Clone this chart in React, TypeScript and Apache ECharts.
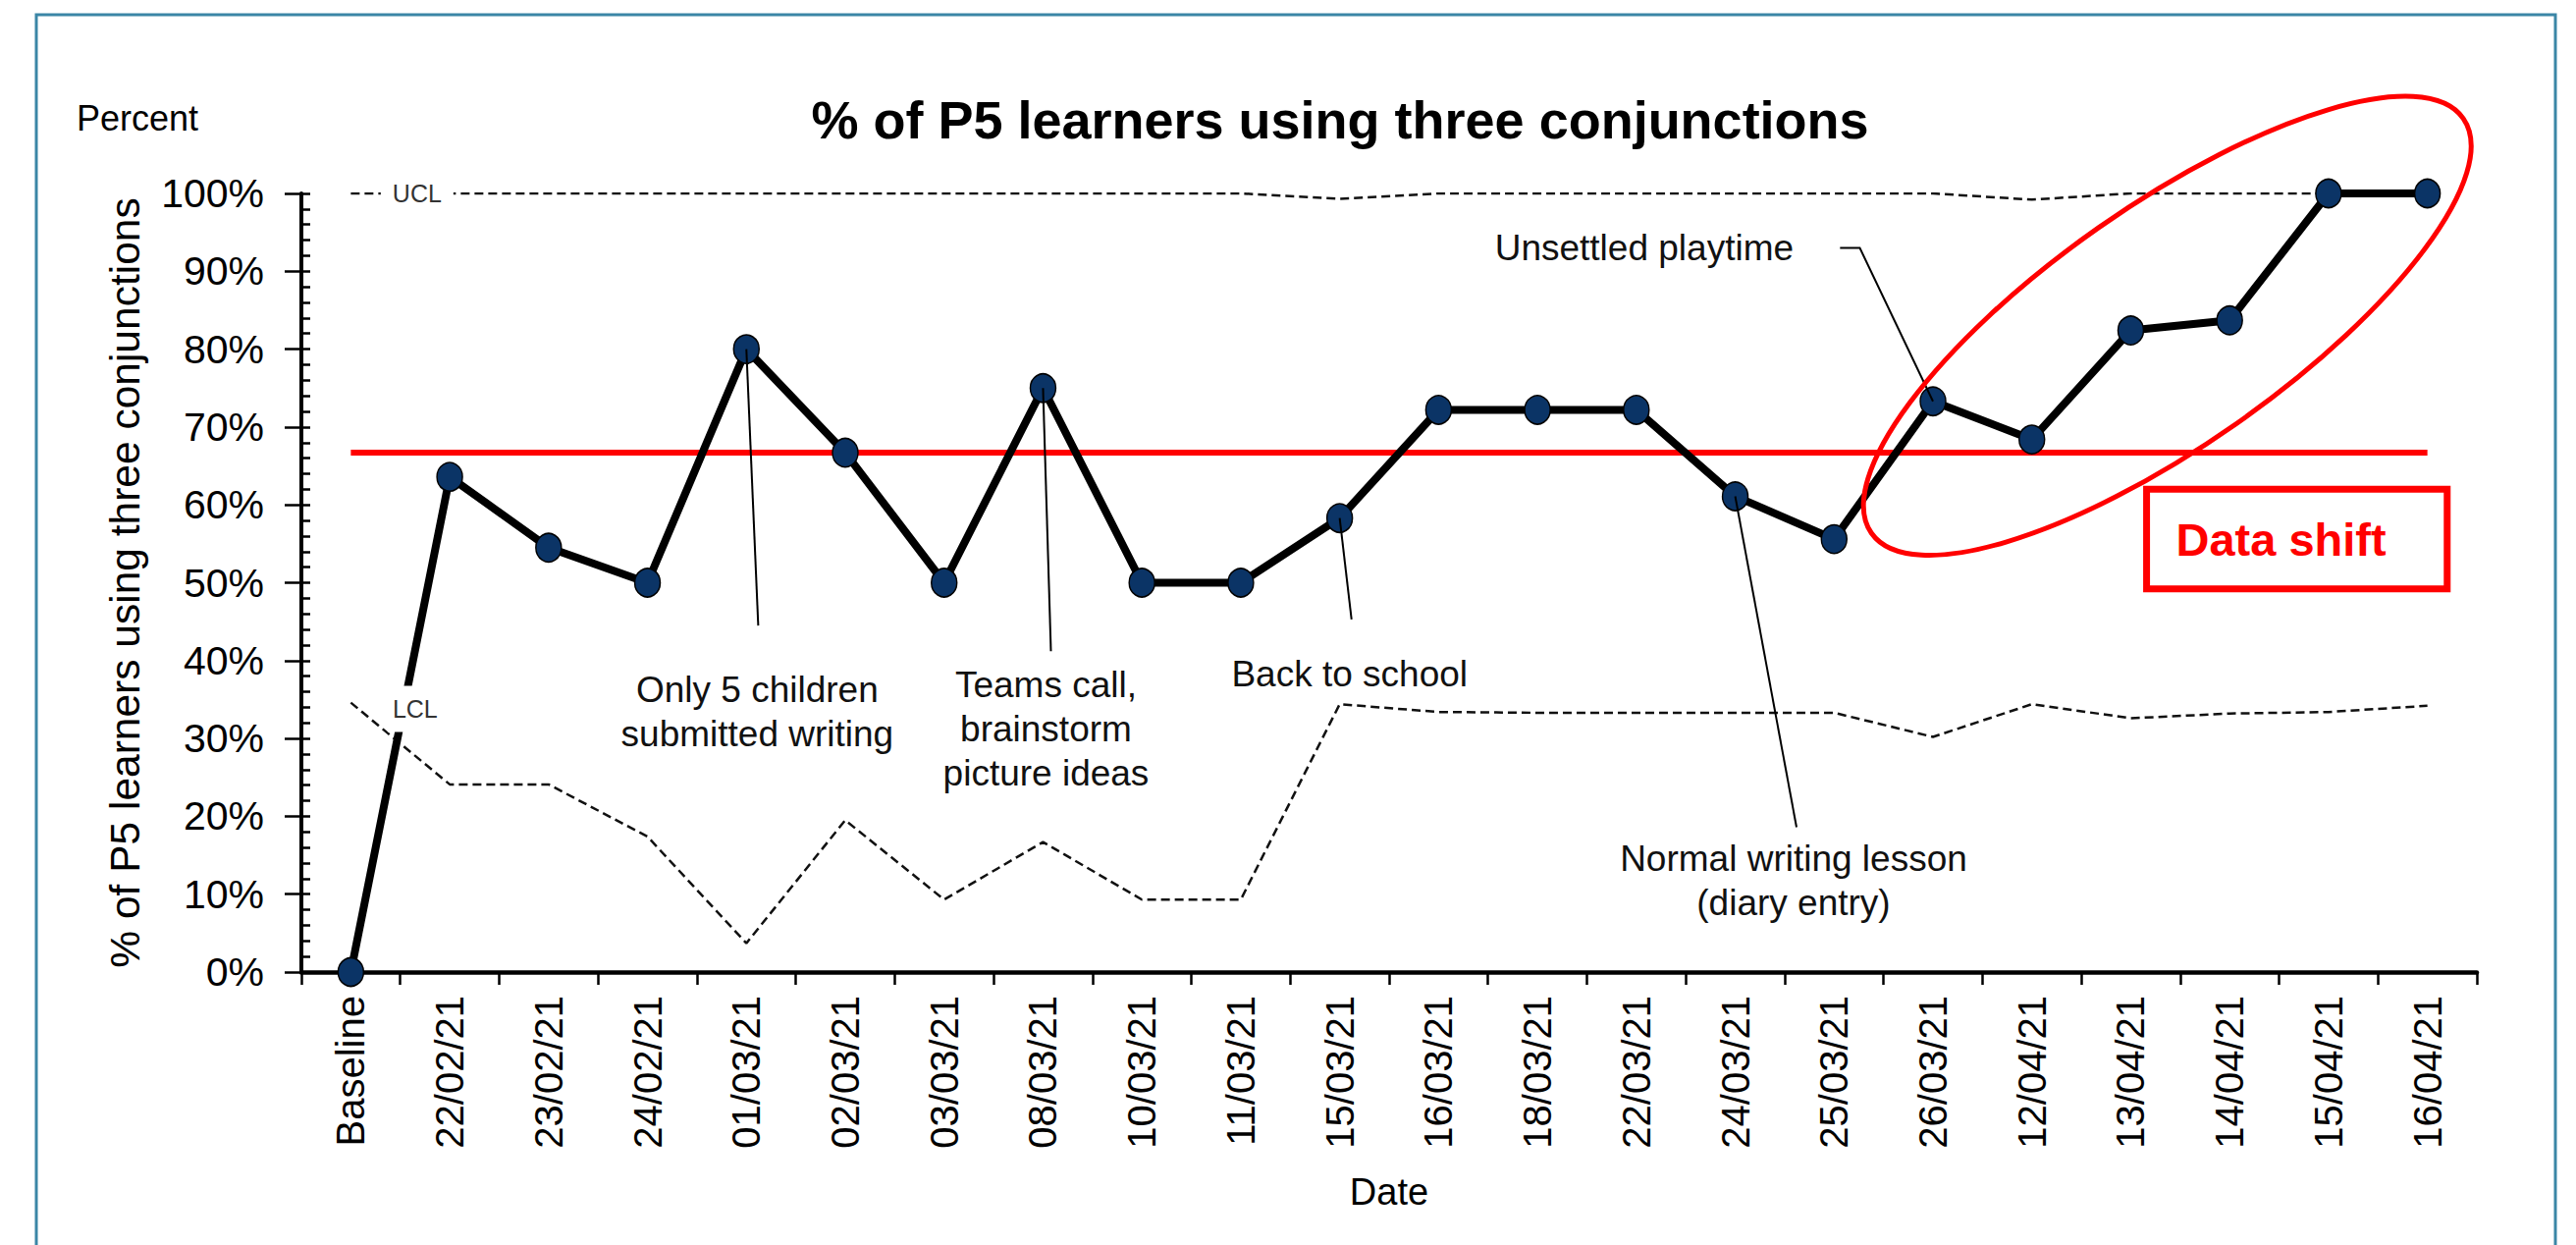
import React, { useEffect, useRef } from 'react';
import * as echarts from 'echarts';

const categories = ['Baseline', '22/02/21', '23/02/21', '24/02/21', '01/03/21', '02/03/21', '03/03/21', '08/03/21', '10/03/21', '11/03/21', '15/03/21', '16/03/21', '18/03/21', '22/03/21', '24/03/21', '25/03/21', '26/03/21', '12/04/21', '13/04/21', '14/04/21', '15/04/21', '16/04/21'];
const percentValues = [0, 63.6, 54.5, 50, 80, 66.7, 50, 75, 50, 50, 58.3, 72.2, 72.2, 72.2, 61.1, 55.6, 73.3, 68.4, 82.4, 83.7, 100, 100];
const meanValues = [66.7, 66.7, 66.7, 66.7, 66.7, 66.7, 66.7, 66.7, 66.7, 66.7, 66.7, 66.7, 66.7, 66.7, 66.7, 66.7, 66.7, 66.7, 66.7, 66.7, 66.7, 66.7];
const uclValues = [100, 100, 100, 100, 100, 100, 100, 100, 100, 100, 99.3, 100, 100, 100, 100, 100, 100, 99.2, 100, 100, 100, 100];
const lclValues = [34.6, 24.1, 24.1, 17.4, 3.7, 19.5, 9.3, 16.7, 9.3, 9.3, 34.4, 33.4, 33.3, 33.3, 33.3, 33.3, 30.2, 34.4, 32.6, 33.2, 33.4, 34.2];
const yTickValues = [0, 10, 20, 30, 40, 50, 60, 70, 80, 90, 100];

// annotations: text, text anchor [category index, value], leader line points [index, value]
const annotations = [
  { text: 'Only 5 children\nsubmitted writing', at: [4.11, 33.4], leader: [[4, 80], [4.12, 44.5]] },
  { text: 'Teams call,\nbrainstorm\npicture ideas', at: [7.03, 31.2], leader: [[7, 75], [7.08, 41.2]] },
  { text: 'Back to school', at: [10.1, 38.3], leader: [[10, 58.3], [10.12, 45.3]] },
  { text: 'Normal writing lesson\n(diary entry)', at: [14.59, 11.7], leader: [[14, 61.1], [14.62, 18.6]] },
  { text: 'Unsettled playtime', at: [13.08, 93.0], leader: [[16, 73.3], [15.26, 93], [15.06, 93]] },
];

const FONT = "'Liberation Sans', Arial, Helvetica, sans-serif";

export default function App() {
  const ref = useRef<HTMLDivElement>(null);
  useEffect(() => {
    const chart = echarts.init(ref.current as HTMLDivElement, null, { renderer: 'svg' });
    const option: any = {
      animation: false,
      backgroundColor: '#ffffff',
      title: {
        text: '% of P5 learners using three conjunctions',
        left: 1360,
        top: 90,
        textAlign: 'center',
        textStyle: { fontFamily: FONT, fontSize: 54, fontWeight: 'bold', color: '#000' },
      },
      grid: { left: 307, right: 101, top: 197, bottom: 278, containLabel: false },
      xAxis: {
        type: 'category',
        data: categories,
        boundaryGap: true,
        name: 'Date',
        nameLocation: 'middle',
        nameGap: 205,
        nameTextStyle: { fontFamily: FONT, fontSize: 38, color: '#000' },
        axisLine: { show: true, lineStyle: { color: '#000', width: 4.5 } },
        axisTick: { show: true, alignWithLabel: false, length: 13, lineStyle: { color: '#000', width: 2.5 } },
        axisLabel: { interval: 0, rotate: 90, margin: 24, fontFamily: FONT, fontSize: 40, color: '#000' },
        splitLine: { show: false },
      },
      yAxis: [
        {
          type: 'value',
          min: 0,
          max: 100,
          interval: 10,
          position: 'left',
          name: '% of P5 learners using three conjunctions',
          nameLocation: 'middle',
          nameGap: 158,
          nameTextStyle: { fontFamily: FONT, fontSize: 42.5, color: '#000' },
          axisLine: { show: true, lineStyle: { color: '#000', width: 4 } },
          axisTick: { show: true, inside: false, length: 17, lineStyle: { color: '#000', width: 2.5 } },
          axisLabel: {
            margin: 38,
            fontFamily: FONT,
            fontSize: 41,
            color: '#000',
            formatter: (v: number) => (yTickValues.indexOf(v) >= 0 ? v + '%' : ''),
          },
          splitLine: { show: false },
        },
        {
          type: 'value',
          min: 0,
          max: 100,
          interval: 10,
          position: 'left',
          offset: 0,
          axisLine: { show: false },
          axisTick: { show: true, inside: true, length: 9, lineStyle: { color: '#000', width: 2.5 } },
          minorTick: { show: true, splitNumber: 5, length: 9, lineStyle: { color: '#000', width: 2.5 } },
          axisLabel: { show: false },
          splitLine: { show: false },
        },
      ],
      series: [
        {
          name: 'UCL',
          type: 'line',
          data: uclValues,
          symbol: 'none',
          z: 1,
          lineStyle: { color: '#111', width: 2.5, type: [9, 5] },
        },
        {
          name: 'LCL',
          type: 'line',
          data: lclValues,
          symbol: 'none',
          z: 1,
          lineStyle: { color: '#111', width: 2.5, type: [9, 5] },
        },
        {
          name: 'Mean',
          type: 'line',
          data: meanValues,
          symbol: 'none',
          z: 2,
          lineStyle: { color: '#ff0000', width: 6 },
        },
        {
          name: '% of P5 learners',
          type: 'line',
          data: percentValues,
          z: 3,
          symbol: 'circle',
          symbolSize: [26, 29],
          lineStyle: { color: '#000', width: 8 },
          itemStyle: { color: '#0b3466', borderColor: '#000', borderWidth: 1.5 },
        },
      ],
    };
    chart.setOption(option);

    const p0 = chart.convertToPixel({ xAxisIndex: 0, yAxisIndex: 0 }, [categories[0], 0]) as number[];
    const p1 = chart.convertToPixel({ xAxisIndex: 0, yAxisIndex: 0 }, [categories[1], 100]) as number[];
    const dx = p1[0] - p0[0];
    const dy = (p1[1] - p0[1]) / 100;
    const pt = (i: number, v: number) => [p0[0] + i * dx, p0[1] + v * dy];

    const graphics: any[] = [];
    graphics.push({
      type: 'rect',
      z: -10,
      silent: true,
      shape: { x: 37, y: 15, width: 2566, height: 1300 },
      style: { fill: 'none', stroke: '#3b86a6', lineWidth: 3 },
    });
    graphics.push({
      type: 'text',
      z: 50,
      x: 78,
      y: 120,
      style: { text: 'Percent', font: `36px ${FONT}`, fill: '#000', textAlign: 'left', textVerticalAlign: 'middle' },
    });
    annotations.forEach((a) => {
      const pts = a.leader.map((q) => pt(q[0], q[1]));
      graphics.push({
        type: 'polyline',
        z: 40,
        shape: { points: pts },
        style: { stroke: '#000', lineWidth: 2, fill: 'none' },
      });
      const c = pt(a.at[0], a.at[1]);
      graphics.push({
        type: 'text',
        z: 41,
        x: c[0],
        y: c[1],
        style: {
          text: a.text,
          font: `37px ${FONT}`,
          lineHeight: 45,
          fill: '#111',
          textAlign: 'center',
          textVerticalAlign: 'middle',
        },
      });
    });
    const ucl = pt(0.67, uclValues[0]);
    graphics.push({
      type: 'text',
      z: 60,
      x: ucl[0],
      y: ucl[1],
      style: {
        text: 'UCL',
        font: `25px ${FONT}`,
        fill: '#333',
        textAlign: 'center',
        textVerticalAlign: 'middle',
        backgroundColor: '#fff',
        padding: [4, 12],
      },
    });
    const lcl = pt(0.65, 33.8);
    graphics.push({
      type: 'text',
      z: 60,
      x: lcl[0],
      y: lcl[1],
      style: {
        text: 'LCL',
        font: `25px ${FONT}`,
        fill: '#333',
        textAlign: 'center',
        textVerticalAlign: 'middle',
        backgroundColor: '#fff',
        padding: [11, 5],
      },
    });
    const ec = pt(18.37, 83.0);
    graphics.push({
      type: 'ellipse',
      z: 70,
      x: ec[0],
      y: ec[1],
      rotation: (35 * Math.PI) / 180,
      shape: { cx: 0, cy: 0, rx: 368, ry: 122 },
      style: { fill: 'none', stroke: '#ff0000', lineWidth: 5 },
    });
    const r1 = pt(18.16, 62.0);
    const r2 = pt(21.2, 49.2);
    graphics.push({
      type: 'rect',
      z: 70,
      shape: { x: r1[0], y: r1[1], width: r2[0] - r1[0], height: r2[1] - r1[1] },
      style: { fill: '#fff', stroke: '#ff0000', lineWidth: 7 },
    });
    const dt = pt(19.52, 55.6);
    graphics.push({
      type: 'text',
      z: 71,
      x: dt[0],
      y: dt[1],
      style: {
        text: 'Data shift',
        font: `bold 47px ${FONT}`,
        fill: '#ff0000',
        textAlign: 'center',
        textVerticalAlign: 'middle',
      },
    });
    chart.setOption({ graphic: graphics });

    return () => chart.dispose();
  }, []);
  return (
    <div
      ref={ref}
      style={{ position: 'fixed', left: 0, top: 0, width: 2624, height: 1268, background: '#fff' }}
    />
  );
}
